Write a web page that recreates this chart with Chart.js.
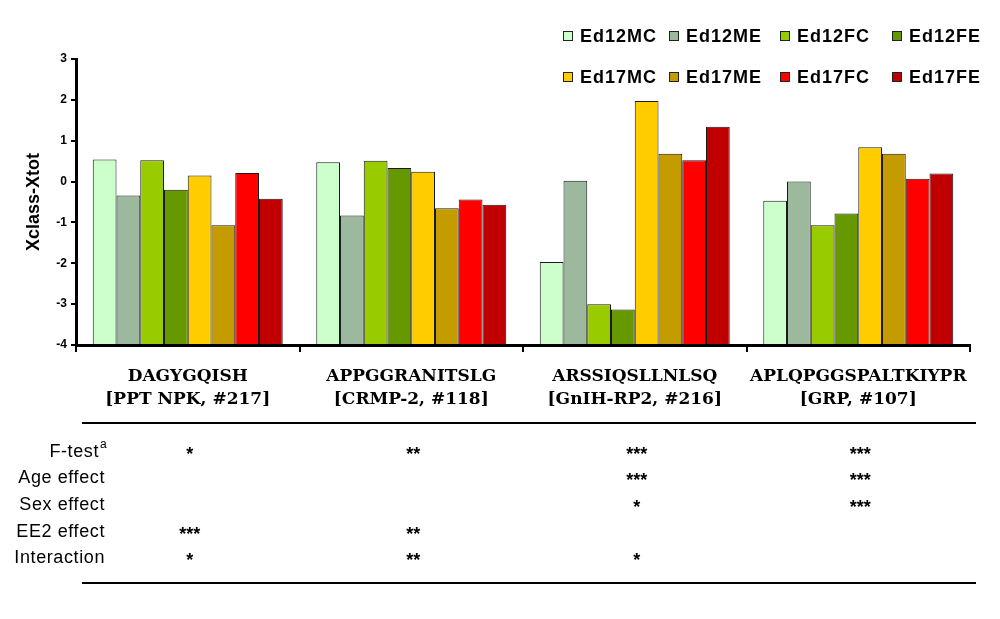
<!DOCTYPE html>
<html>
<head>
<meta charset="utf-8">
<script src="https://cdn.jsdelivr.net/npm/chart.js@4"></script>
<style>
  html, body { margin: 0; padding: 0; background: #fff; }
  #wrap { position: relative; width: 1000px; height: 619px; }
</style>
</head>
<body>
<div id="wrap"><canvas id="c" width="1000" height="619"></canvas></div>
<script>
// ---- data ----
const categories = [
  ["DAGYGQISH", "[PPT NPK, #217]"],
  ["APPGGRANITSLG", "[CRMP-2, #118]"],
  ["ARSSIQSLLNLSQ", "[GnIH-RP2, #216]"],
  ["APLQPGGSPALTKIYPR", "[GRP, #107]"]
];
const seriesNames = ["Ed12MC", "Ed12ME", "Ed12FC", "Ed12FE", "Ed17MC", "Ed17ME", "Ed17FC", "Ed17FE"];
const ed12MC = [0.54, 0.47, -1.97, -0.47];
const ed12ME = [-0.34, -0.83, 0.02, 0.00];
const ed12FC = [0.52, 0.51, -3.00, -1.07];
const ed12FE = [-0.20, 0.33, -3.13, -0.78];
const ed17MC = [0.15, 0.24, 1.97, 0.84];
const ed17ME = [-1.07, -0.65, 0.68, 0.68];
const ed17FC = [0.21, -0.44, 0.52, 0.07];
const ed17FE = [-0.42, -0.57, 1.34, 0.20];
const seriesValues = [ed12MC, ed12ME, ed12FC, ed12FE, ed17MC, ed17ME, ed17FC, ed17FE];
const seriesColors = ["#CCFFCC", "#9DB99D", "#99CC00", "#669900", "#FFCC00", "#C49C00", "#FF0000", "#C00000"];
const yMin = -4, yMax = 3, yStep = 1;
const yTitle = "Xclass-Xtot";

// significance table
const tableRowLabels = ["F-test", "Age effect", "Sex effect", "EE2 effect", "Interaction"];
const fTest       = ["*", "**", "***", "***"];
const ageEffect   = ["", "", "***", "***"];
const sexEffect   = ["", "", "*", "***"];
const ee2Effect   = ["***", "**", "", ""];
const interaction = ["*", "**", "*", ""];
const tableStars = [fTest, ageEffect, sexEffect, ee2Effect, interaction];

// ---- plugins ----
const legendPlugin = {
  id: 'gridLegend',
  afterDraw(chart) {
    const ctx = chart.ctx;
    const colX = [563, 669, 780, 892];
    const rowY = [36, 77];
    ctx.save();
    ctx.font = 'bold 18px "Liberation Sans", Arial, sans-serif';
    if ('letterSpacing' in ctx) ctx.letterSpacing = '1px';
    ctx.textBaseline = 'middle';
    ctx.textAlign = 'left';
    chart.data.datasets.forEach((ds, i) => {
      const x = colX[i % 4], y = rowY[Math.floor(i / 4)];
      ctx.fillStyle = ds.backgroundColor;
      ctx.fillRect(x, y - 5, 9, 9);
      ctx.strokeStyle = '#222';
      ctx.lineWidth = 1;
      ctx.strokeRect(x + 0.5, y - 4.5, 9, 9);
      ctx.fillStyle = '#000';
      ctx.fillText(ds.label, x + 17, y + 1);
    });
    ctx.restore();
  }
};

const tablePlugin = {
  id: 'sigTable',
  afterDraw(chart) {
    const ctx = chart.ctx;
    const xs = chart.scales.x;
    const rowY = [452, 478, 505, 532, 558];
    ctx.save();
    ctx.strokeStyle = '#000';
    ctx.lineWidth = 2;
    [423, 583].forEach(y => {
      ctx.beginPath(); ctx.moveTo(82, y); ctx.lineTo(976, y); ctx.stroke();
    });
    ctx.fillStyle = '#000';
    ctx.textBaseline = 'middle';
    tableRowLabels.forEach((lab, r) => {
      ctx.font = '18px "Liberation Sans", Arial, sans-serif';
      if ('letterSpacing' in ctx) ctx.letterSpacing = '0.6px';
      ctx.textAlign = 'right';
      if (r === 0) {
        ctx.fillText(lab, 99, rowY[r]);
        ctx.font = '12px "Liberation Sans", Arial, sans-serif';
        ctx.textAlign = 'left';
        ctx.fillText('a', 100, rowY[r] - 7);
      } else {
        ctx.fillText(lab, 105, rowY[r]);
      }
      if ('letterSpacing' in ctx) ctx.letterSpacing = '0px';
      ctx.font = 'bold 18px "Liberation Sans", Arial, sans-serif';
      ctx.textAlign = 'center';
      tableStars[r].forEach((s, c) => {
        if (s) ctx.fillText(s, xs.getPixelForValue(c) + 2, rowY[r] + 3);
      });
    });
    ctx.restore();
  }
};

// ---- chart ----
const datasets = seriesNames.map((name, i) => ({
  label: name,
  data: seriesValues[i],
  backgroundColor: seriesColors[i],
  borderColor: '#1a1a1a',
  borderWidth: 1,
  base: yMin
}));

new Chart(document.getElementById('c'), {
  type: 'bar',
  data: { labels: categories, datasets },
  plugins: [legendPlugin, tablePlugin],
  options: {
    responsive: false,
    animation: false,
    devicePixelRatio: 1,
    layout: { padding: { left: 0, top: 59, right: 30, bottom: 0 } },
    plugins: { legend: { display: false }, tooltip: { enabled: false } },
    datasets: { bar: { categoryPercentage: 0.85, barPercentage: 1.0 } },
    scales: {
      x: {
        offset: true,
        afterFit(scale) { scale.height = 274; },
        border: { display: true, color: '#000', width: 3 },
        grid: { offset: true, drawOnChartArea: false, drawTicks: true, tickLength: 7, color: '#000', lineWidth: 2 },
        ticks: {
          color: '#000',
          padding: 14,
          maxRotation: 0,
          autoSkip: false,
          font: { family: '"DejaVu Serif", serif', weight: 'bold', size: 17, lineHeight: 1.3 }
        }
      },
      y: {
        min: yMin, max: yMax,
        afterFit(scale) { scale.width = 76; },
        border: { display: true, color: '#000', width: 3 },
        grid: { drawOnChartArea: false, drawTicks: true, tickLength: 5, color: '#000', lineWidth: 2 },
        ticks: {
          stepSize: yStep,
          color: '#000',
          padding: 4,
          font: { family: '"Liberation Sans", Arial, sans-serif', weight: 'bold', size: 12 }
        },
        title: {
          display: true,
          text: yTitle,
          color: '#000',
          padding: { top: 23, bottom: 0 },
          font: { family: '"Liberation Sans", Arial, sans-serif', weight: 'bold', size: 18 }
        }
      }
    }
  }
});
</script>
</body>
</html>
